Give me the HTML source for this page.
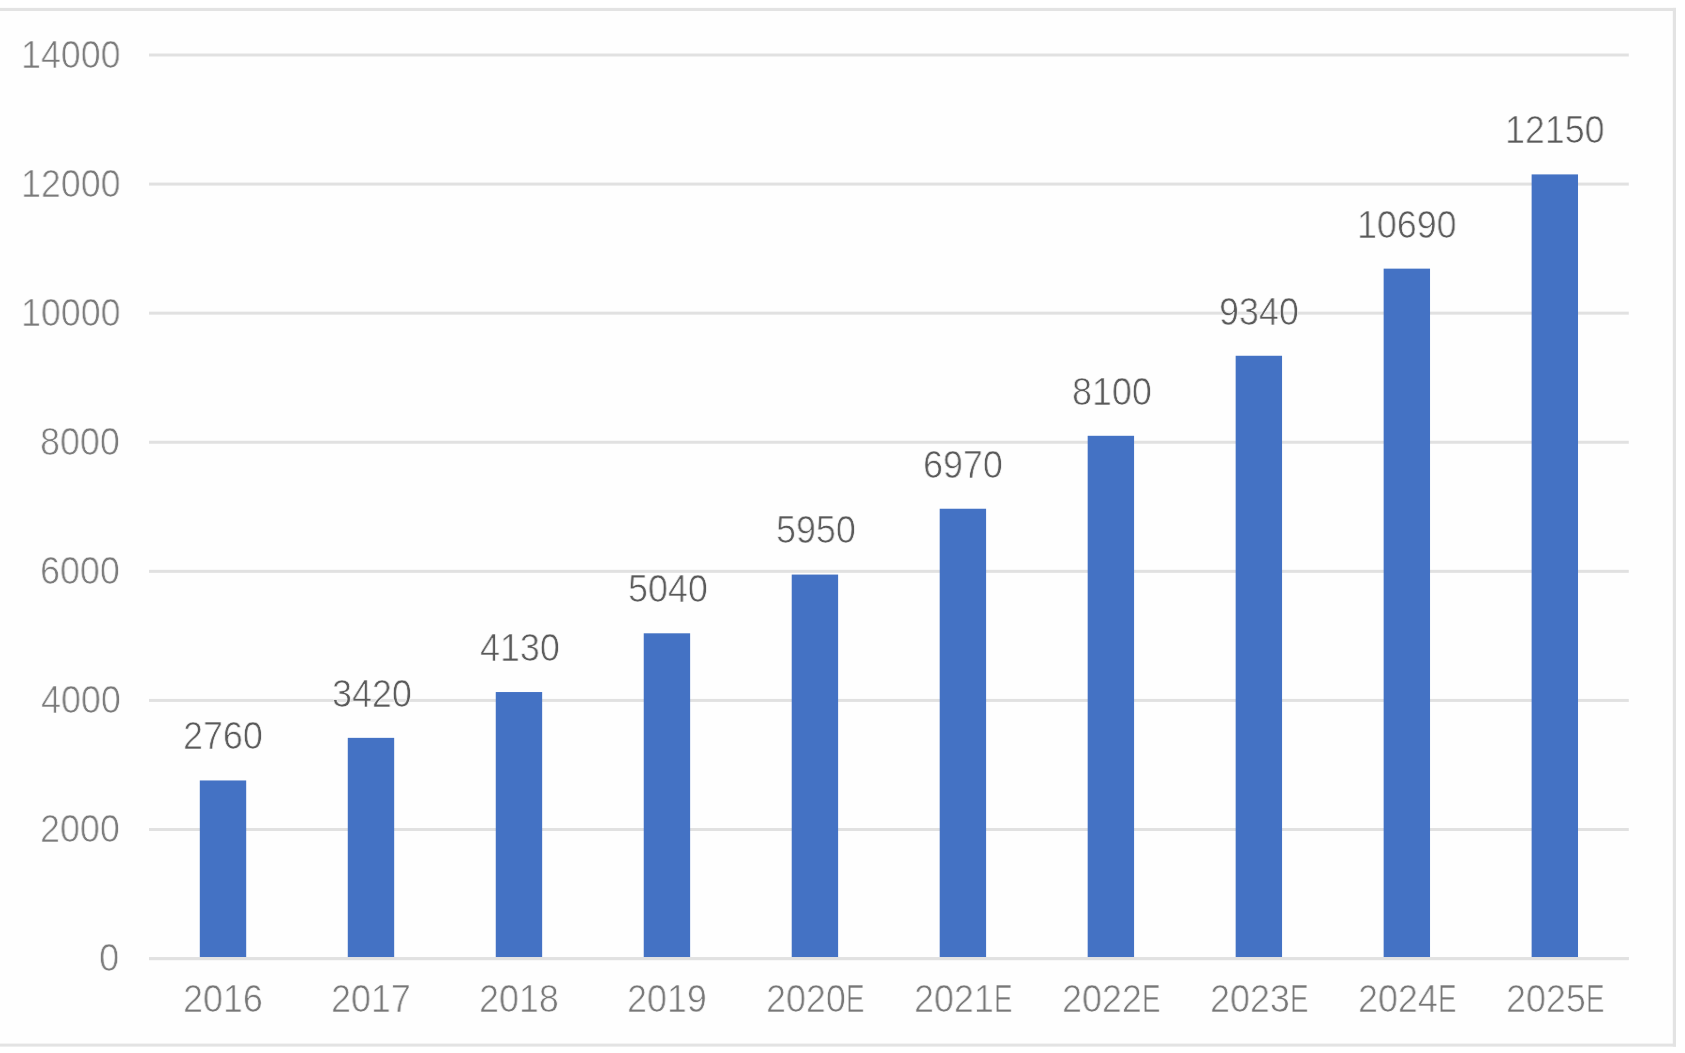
<!DOCTYPE html>
<html><head><meta charset="utf-8"><style>
html,body{margin:0;padding:0;background:#fff;}
body{width:1685px;height:1053px;overflow:hidden;position:relative;font-family:"Liberation Sans",sans-serif;}
.t{position:absolute;will-change:transform;-webkit-text-stroke:0.7px #fefefe;font-size:38.20px;line-height:1;white-space:nowrap;transform-origin:0 0;}
</style></head><body>

<svg width="1685" height="1053" viewBox="0 0 1685 1053" style="position:absolute;left:0;top:0" shape-rendering="geometricPrecision"><rect x="0" y="9.5" width="1674.4" height="1035.5" fill="#fefefe"/><rect x="0" y="7.9" width="1676" height="3.1" fill="#e3e3e3"/><rect x="1672.8" y="7.9" width="3.2" height="1038.7" fill="#e3e3e3"/><rect x="0" y="1043.6" width="1676" height="3.0" fill="#e3e3e3"/><rect x="149.0" y="53.50" width="1479.8" height="3" fill="#e1e1e1"/><rect x="149.0" y="182.59" width="1479.8" height="3" fill="#e1e1e1"/><rect x="149.0" y="311.67" width="1479.8" height="3" fill="#e1e1e1"/><rect x="149.0" y="440.76" width="1479.8" height="3" fill="#e1e1e1"/><rect x="149.0" y="569.84" width="1479.8" height="3" fill="#e1e1e1"/><rect x="149.0" y="698.93" width="1479.8" height="3" fill="#e1e1e1"/><rect x="149.0" y="828.01" width="1479.8" height="3" fill="#e1e1e1"/><rect x="149.0" y="957.10" width="1479.8" height="3" fill="#e1e1e1"/><rect x="199.80" y="780.46" width="46.39" height="176.64" fill="#4472c4"/><rect x="347.78" y="737.86" width="46.39" height="219.24" fill="#4472c4"/><rect x="495.76" y="692.04" width="46.39" height="265.06" fill="#4472c4"/><rect x="643.74" y="633.30" width="46.39" height="323.80" fill="#4472c4"/><rect x="791.72" y="574.57" width="46.39" height="382.53" fill="#4472c4"/><rect x="939.70" y="508.74" width="46.39" height="448.36" fill="#4472c4"/><rect x="1087.68" y="435.80" width="46.39" height="521.30" fill="#4472c4"/><rect x="1235.66" y="355.77" width="46.39" height="601.33" fill="#4472c4"/><rect x="1383.64" y="268.64" width="46.39" height="688.46" fill="#4472c4"/><rect x="1531.62" y="174.40" width="46.39" height="782.70" fill="#4472c4"/><rect x="149.0" y="957.10" width="1479.8" height="3" fill="#e1e1e1"/></svg>
<div class="t" style="left:20.54px;top:35.81px;color:#7a7a7a;transform:scaleX(0.9369)">14000</div>
<div class="t" style="left:20.54px;top:164.89px;color:#7a7a7a;transform:scaleX(0.9369)">12000</div>
<div class="t" style="left:20.54px;top:293.98px;color:#7a7a7a;transform:scaleX(0.9369)">10000</div>
<div class="t" style="left:40.07px;top:423.07px;color:#7a7a7a;transform:scaleX(0.9390)">8000</div>
<div class="t" style="left:39.71px;top:552.15px;color:#7a7a7a;transform:scaleX(0.9390)">6000</div>
<div class="t" style="left:40.78px;top:681.24px;color:#7a7a7a;transform:scaleX(0.9390)">4000</div>
<div class="t" style="left:39.71px;top:810.32px;color:#7a7a7a;transform:scaleX(0.9390)">2000</div>
<div class="t" style="left:99.15px;top:939.41px;color:#7a7a7a;transform:scaleX(0.9490)">0</div>
<div class="t" style="left:183.30px;top:979.91px;color:#777;transform:scaleX(0.9390)">2016</div>
<div class="t" style="left:331.28px;top:979.91px;color:#777;transform:scaleX(0.9390)">2017</div>
<div class="t" style="left:479.26px;top:979.91px;color:#777;transform:scaleX(0.9390)">2018</div>
<div class="t" style="left:627.24px;top:979.91px;color:#777;transform:scaleX(0.9390)">2019</div>
<div class="t" style="left:765.67px;top:979.91px;color:#777;transform:scaleX(0.9390)">2020</div><div class="t" style="left:845.74px;top:979.91px;color:#777;transform:scaleX(0.7272)">E</div>
<div class="t" style="left:913.65px;top:979.91px;color:#777;transform:scaleX(0.9390)">2021</div><div class="t" style="left:993.72px;top:979.91px;color:#777;transform:scaleX(0.7272)">E</div>
<div class="t" style="left:1061.63px;top:979.91px;color:#777;transform:scaleX(0.9390)">2022</div><div class="t" style="left:1141.70px;top:979.91px;color:#777;transform:scaleX(0.7272)">E</div>
<div class="t" style="left:1209.61px;top:979.91px;color:#777;transform:scaleX(0.9390)">2023</div><div class="t" style="left:1289.68px;top:979.91px;color:#777;transform:scaleX(0.7272)">E</div>
<div class="t" style="left:1357.59px;top:979.91px;color:#777;transform:scaleX(0.9390)">2024</div><div class="t" style="left:1437.66px;top:979.91px;color:#777;transform:scaleX(0.7272)">E</div>
<div class="t" style="left:1505.57px;top:979.91px;color:#777;transform:scaleX(0.9390)">2025</div><div class="t" style="left:1585.64px;top:979.91px;color:#777;transform:scaleX(0.7272)">E</div>
<div class="t" style="left:183.30px;top:717.37px;color:#595959;transform:scaleX(0.9390)">2760</div>
<div class="t" style="left:331.64px;top:674.77px;color:#595959;transform:scaleX(0.9390)">3420</div>
<div class="t" style="left:480.33px;top:628.95px;color:#595959;transform:scaleX(0.9390)">4130</div>
<div class="t" style="left:627.60px;top:570.21px;color:#595959;transform:scaleX(0.9390)">5040</div>
<div class="t" style="left:775.58px;top:511.48px;color:#595959;transform:scaleX(0.9390)">5950</div>
<div class="t" style="left:923.20px;top:445.65px;color:#595959;transform:scaleX(0.9390)">6970</div>
<div class="t" style="left:1071.54px;top:372.71px;color:#595959;transform:scaleX(0.9390)">8100</div>
<div class="t" style="left:1219.16px;top:292.68px;color:#595959;transform:scaleX(0.9390)">9340</div>
<div class="t" style="left:1356.67px;top:205.55px;color:#595959;transform:scaleX(0.9369)">10690</div>
<div class="t" style="left:1504.65px;top:111.31px;color:#595959;transform:scaleX(0.9369)">12150</div>
</body></html>
